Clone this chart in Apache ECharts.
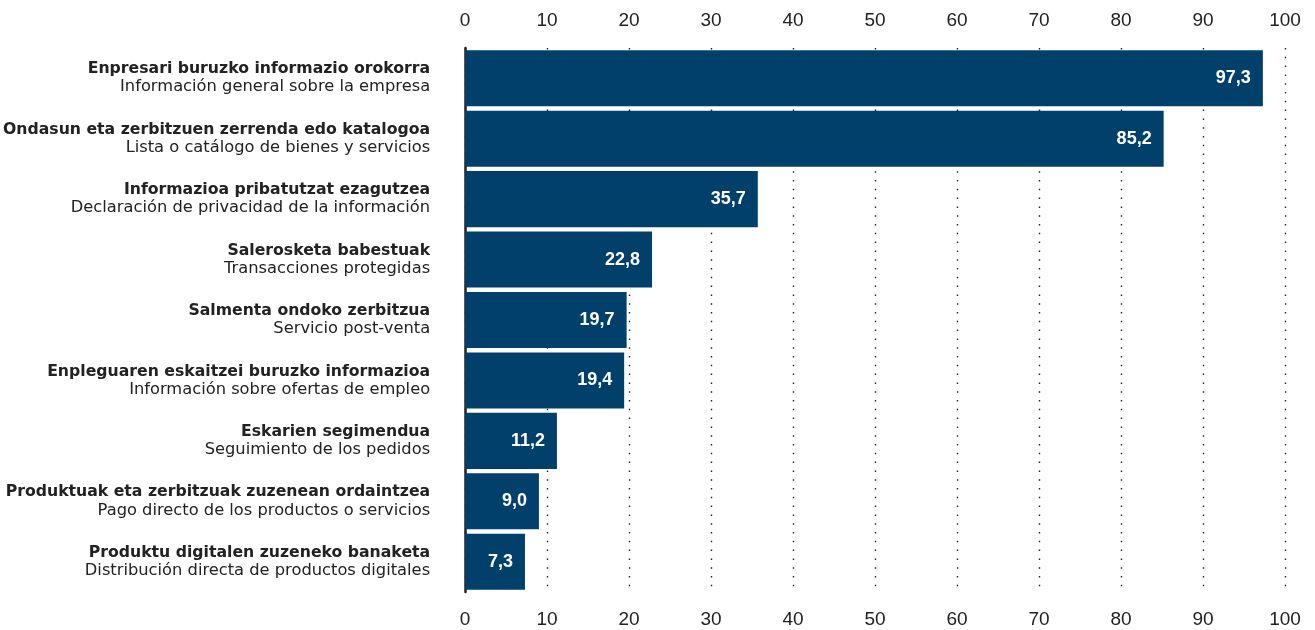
<!DOCTYPE html>
<html>
<head>
<meta charset="utf-8">
<script src="https://cdn.jsdelivr.net/npm/echarts@6/dist/echarts.min.js"></script>
<style>
  html, body { margin: 0; padding: 0; background: #fff; }
  #main { width: 1315px; height: 630px; }
</style>
</head>
<body>
<div id="main"></div>
<script>
// categorias: euskara (lodi) eta gaztelania
var namesEu = [
  'Enpresari buruzko informazio orokorra',
  'Ondasun eta zerbitzuen zerrenda edo katalogoa',
  'Informazioa pribatutzat ezagutzea',
  'Salerosketa babestuak',
  'Salmenta ondoko zerbitzua',
  'Enpleguaren eskaitzei buruzko informazioa',
  'Eskarien segimendua',
  'Produktuak eta zerbitzuak zuzenean ordaintzea',
  'Produktu digitalen zuzeneko banaketa'
];
var namesEs = [
  'Información general sobre la empresa',
  'Lista o catálogo de bienes y servicios',
  'Declaración de privacidad de la información',
  'Transacciones protegidas',
  'Servicio post-venta',
  'Información sobre ofertas de empleo',
  'Seguimiento de los pedidos',
  'Pago directo de los productos o servicios',
  'Distribución directa de productos digitales'
];
var values = [97.3, 85.2, 35.7, 22.8, 19.7, 19.4, 11.2, 9.0, 7.3];
var ticks = [0, 10, 20, 30, 40, 50, 60, 70, 80, 90, 100];

var myChart = echarts.init(document.getElementById('main'));

var font = '"Liberation Sans", Arial, sans-serif';
var labelFont = '"DejaVu Sans", sans-serif';
var tickLabel = {
  fontSize: 19,
  color: '#222',
  fontFamily: font,
  margin: 18,
  formatter: function (v) { return ticks.indexOf(v) >= 0 ? String(v) : ''; }
};

var option = {
  animation: false,
  grid: { left: 465, right: 30, top: 48, bottom: 38 },
  xAxis: [
    {
      type: 'value', position: 'top', min: 0, max: 100, interval: 10,
      axisLine: { show: false }, axisTick: { show: false },
      axisLabel: tickLabel,
      splitLine: { show: true, lineStyle: { color: '#222', width: 1.4, type: [1.5, 7.3] } }
    },
    {
      type: 'value', position: 'bottom', min: 0, max: 100, interval: 10,
      axisLine: { show: false }, axisTick: { show: false },
      axisLabel: tickLabel,
      splitLine: { show: false }
    }
  ],
  yAxis: {
    type: 'category',
    inverse: true,
    data: namesEu,
    axisTick: { show: false },
    axisLine: { show: true, lineStyle: { color: '#222', width: 2.5 } },
    axisLabel: {
      margin: 35,
      align: 'right',
      formatter: function (v, i) {
        return '{b|' + v + '}\n{n|' + namesEs[i] + '}';
      },
      rich: {
        b: { fontSize: 15.7, fontWeight: 'bold', color: '#222', fontFamily: labelFont, lineHeight: 18, align: 'right' },
        n: { fontSize: 16.3, color: '#222', fontFamily: labelFont, lineHeight: 18, align: 'right' }
      }
    }
  },
  series: [
    {
      type: 'bar',
      data: values,
      barCategoryGap: '7.3%',
      itemStyle: { color: '#00406b' },
      z: 3,
      label: {
        show: true,
        position: 'insideRight',
        distance: 12,
        color: '#fff',
        fontWeight: 'bold',
        fontSize: 18,
        fontFamily: font,
        formatter: function (p) { return p.value.toFixed(1).replace('.', ','); }
      }
    }
  ]
};
myChart.setOption(option);
</script>
</body>
</html>
